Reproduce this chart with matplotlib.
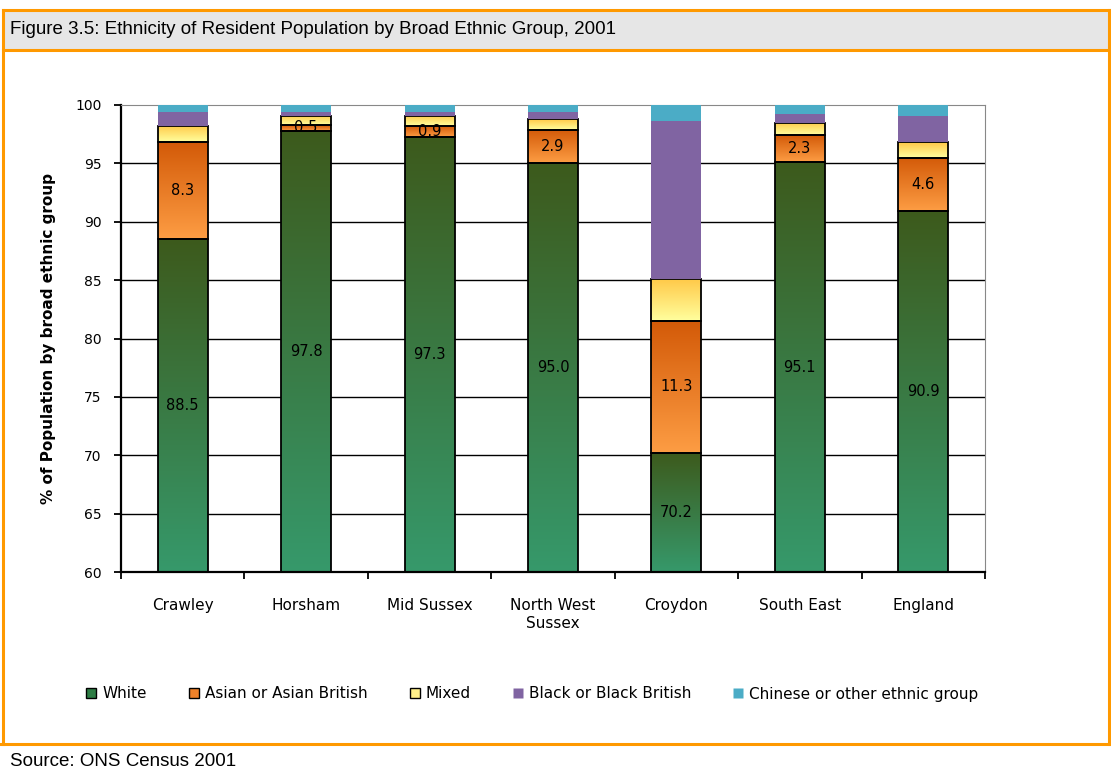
import numpy as np
import matplotlib
matplotlib.use("Agg")
import matplotlib.pyplot as plt
from matplotlib.colors import LinearSegmentedColormap
from matplotlib.patches import Rectangle
from matplotlib.lines import Line2D

areas = ["Crawley", "Horsham", "Mid Sussex", "North West\nSussex", "Croydon", "South East", "England"]
white = [88.5, 97.8, 97.3, 95.0, 70.2, 95.1, 90.9]
asian = [8.3, 0.5, 0.9, 2.9, 11.3, 2.3, 4.6]
mixed = [1.4, 0.8, 0.9, 0.9, 3.6, 1.1, 1.3]
black = [1.2, 0.3, 0.3, 0.6, 13.5, 0.7, 2.3]
chinese = [0.6, 0.6, 0.6, 0.6, 1.4, 0.8, 0.9]
series_names = ["White", "Asian or Asian British", "Mixed", "Black or Black British",
                "Chinese or other ethnic group"]

W, H = 1111, 778
fig = plt.figure(figsize=(W / 100, H / 100), dpi=100)

def fx(px):
    return px / W

def fy(py):
    return 1 - py / H

orange = "#FF9900"
# title band and frame
fig.patches.append(Rectangle((fx(3), fy(50)), fx(1106), fy(10) - fy(50), transform=fig.transFigure,
                             facecolor="#E6E6E6", edgecolor="none", zorder=0))
for (x0, y0, x1, y1) in [(3, 10, 1111, 10), (3, 50, 1111, 50), (0, 744, 1111, 744),
                         (3, 10, 3, 744), (1109, 10, 1109, 744)]:
    fig.add_artist(Line2D([fx(x0), fx(x1)], [fy(y0), fy(y1)], transform=fig.transFigure,
                          color=orange, lw=2.2, zorder=1))
fig.text(fx(10), fy(30), "Figure 3.5: Ethnicity of Resident Population by Broad Ethnic Group, 2001",
         family="Liberation Sans", fontsize=13.5, va="center", ha="left")
fig.text(fx(10), fy(761), "Source: ONS Census 2001", family="Liberation Sans", fontsize=13.5,
         va="center", ha="left")

ax = fig.add_axes([fx(121), fy(572), fx(985) - fx(121), fy(105) - fy(572)])

x = np.arange(len(areas))
width = 0.405

def grad_bars(bottoms, heights, top_c, bot_c, edge):
    cmap = LinearSegmentedColormap.from_list("g", [top_c, bot_c])
    grad = np.linspace(0, 1, 256).reshape(-1, 1)
    bars = ax.bar(x, heights, width, bottom=bottoms, color="none", edgecolor=edge,
                  lw=1.3, zorder=3)
    for xi, b, h, patch in zip(x, bottoms, heights, bars):
        im = ax.imshow(grad, cmap=cmap, extent=(xi - width / 2, xi + width / 2, b, b + h),
                       aspect="auto", origin="upper", zorder=2.5, interpolation="bilinear")
        im.set_clip_path(patch)
    return bars

base = np.zeros(len(areas)) + 60
w = np.array(white)
a = np.array(asian)
m = np.array(mixed)
bl = np.array(black)
c = np.array(chinese)

grad_bars(base, w - 60, "#3D5A1C", "#36996B", "black")
grad_bars(w, a, "#D35A08", "#FD9D44", "black")
grad_bars(w + a, m, "#FFC847", "#FFFF9E", "black")
ax.bar(x, bl, width, bottom=w + a + m, color="#8064A2", zorder=3)
ax.bar(x, c, width, bottom=w + a + m + bl, color="#4BACC6", zorder=3)

for xi, wv, av in zip(x, w, a):
    ax.text(xi, 60 + (wv - 60) / 2, f"{wv:.1f}", ha="center", va="center", fontsize=10.5, zorder=5)
    ax.text(xi, wv + av / 2, f"{av:.1f}", ha="center", va="center", fontsize=10.5, zorder=5)

ax.set_xlim(-0.5, len(areas) - 0.5)
ax.set_ylim(60, 100)
ax.set_yticks(np.arange(60, 101, 5))
ax.tick_params(axis="y", labelsize=10, direction="out", length=5, width=1.3, pad=9)
ax.set_xticks(np.arange(-0.5, len(areas), 1.0))
ax.set_xticklabels([])
ax.set_xticks(x, minor=True)
ax.set_xticklabels(areas, minor=True, fontsize=11)
ax.tick_params(axis="x", which="minor", length=0, pad=19)
ax.tick_params(axis="x", which="major", direction="out", length=5, width=1.3)
for yv in range(65, 100, 5):
    ax.axhline(yv, color="black", lw=1, zorder=1)
ax.spines["top"].set_color("#888888")
ax.spines["right"].set_color("#888888")
ax.spines["left"].set_linewidth(1.6)
ax.spines["bottom"].set_linewidth(1.6)
ax.set_ylabel("% of Population by broad ethnic group", fontsize=11, fontweight="bold", labelpad=14)

handles = [
    Line2D([], [], ls="none", marker="s", markersize=7, markerfacecolor="#2E7D45", markeredgecolor="black"),
    Line2D([], [], ls="none", marker="s", markersize=7, markerfacecolor="#F0822A", markeredgecolor="black"),
    Line2D([], [], ls="none", marker="s", markersize=7, markerfacecolor="#FFF08A", markeredgecolor="black"),
    Line2D([], [], ls="none", marker="s", markersize=7, markerfacecolor="#8064A2", markeredgecolor="none"),
    Line2D([], [], ls="none", marker="s", markersize=7, markerfacecolor="#4BACC6", markeredgecolor="none"),
]
fig.legend(handles, series_names, loc="center", bbox_to_anchor=(fx(531), fy(694)), ncol=5,
           frameon=False, fontsize=11, handletextpad=0.2, columnspacing=2.6, handlelength=1.0)

fig.savefig("out.png", dpi=100)
